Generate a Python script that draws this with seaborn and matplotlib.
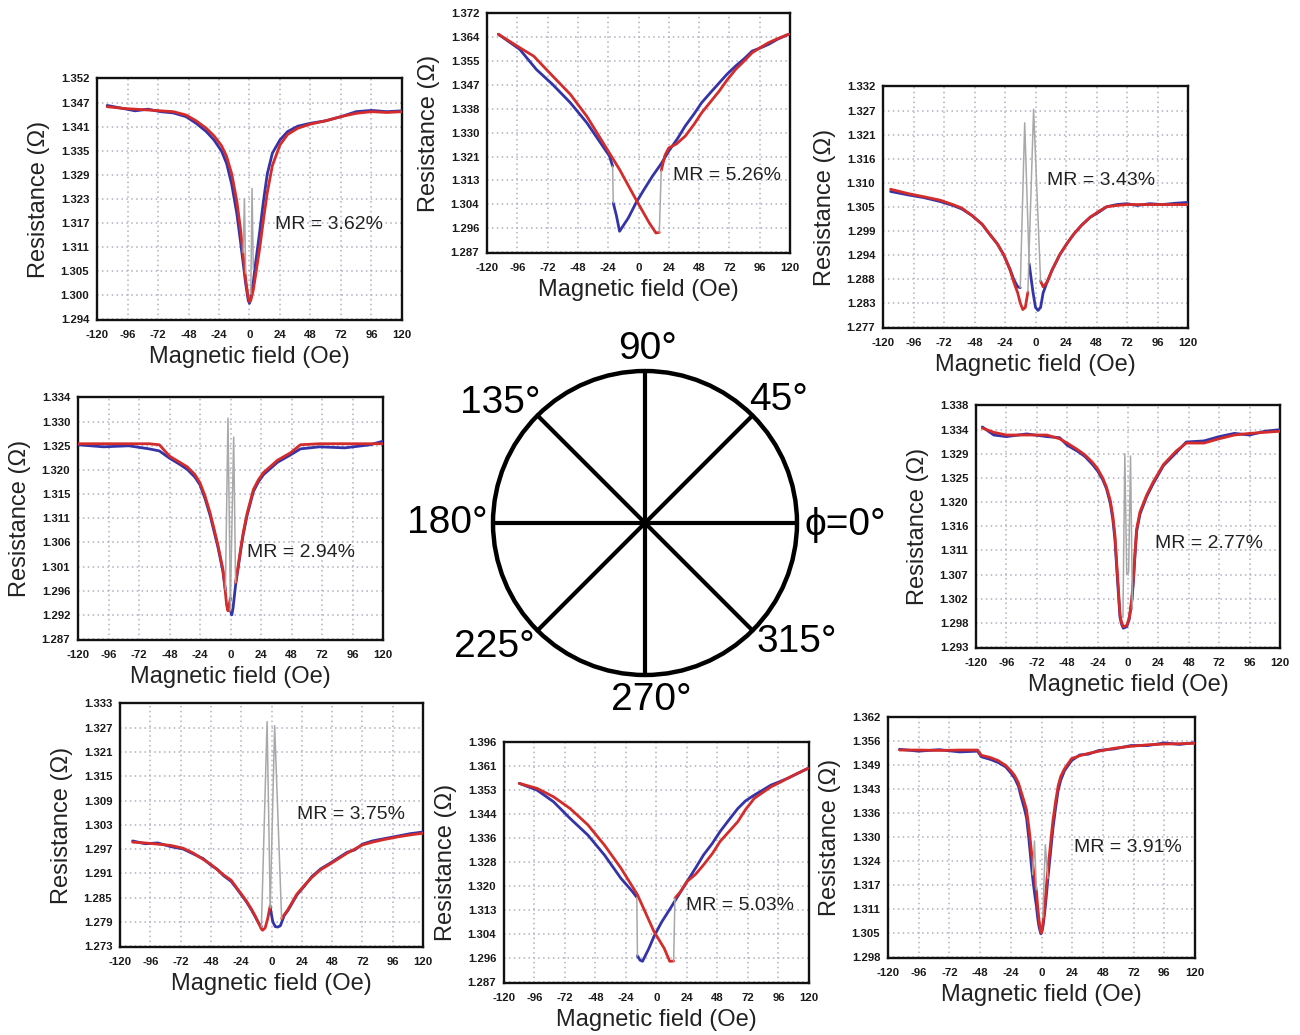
import numpy as np
import matplotlib
matplotlib.use("Agg")
import matplotlib.pyplot as plt
import seaborn as sns
from matplotlib.patches import Circle

sns.set_theme(style="white")
plt.rcParams['font.family'] = ['Liberation Sans', 'DejaVu Sans']

nan = np.nan
W, H = 1300, 1035
BLUE = '#3434a8'
RED = '#d42b2b'
GREY = '#a8a8a8'

x_ticklabels = ['-120', '-96', '-72', '-48', '-24', '0', '24', '48', '72', '96', '120']

# ---------------- phi = 135 deg (top-left) ----------------
p135_x = [-112, -100, -90, -80, -70, -60, -50, -42, -34, -28, -22, -18, -14, -10, -7, -5, -3, -1, 0, 1,
          3, 5, 8, 11, 14, 18, 24, 30, 38, 48, 60, 72, 84, 96, 108, 120]
p135_blue = [1.3455, 1.3448, 1.3442, 1.3446, 1.3440, 1.3437, 1.3428, 1.3412, 1.3392, 1.3372,
             1.3345, 1.3315, 1.3265, 1.3195, 1.3125, 1.3075, 1.3025, 1.2985, 1.2978, 1.2990,
             1.3030, 1.3080, 1.3150, 1.3225, 1.3290, 1.3340, 1.3372, 1.3392, 1.3405, 1.3412,
             1.3418, 1.3428, 1.3440, 1.3443, 1.3440, 1.3442]
p135_red = [1.3452, 1.3448, 1.3446, 1.3444, 1.3442, 1.3440, 1.3432, 1.3418, 1.3400, 1.3382,
            1.3358, 1.3332, 1.3290, 1.3225, 1.3155, 1.3095, 1.3035, 1.2992, 1.2982, 1.2985,
            1.3010, 1.3050, 1.3110, 1.3180, 1.3245, 1.3310, 1.3360, 1.3385, 1.3400, 1.3410,
            1.3418, 1.3428, 1.3436, 1.3440, 1.3438, 1.3440]
p135_spike_x = [[-5, -4, -3], [1, 2, 3]]
p135_spike_y = [[1.3100, 1.3230, 1.3050], [1.3000, 1.3255, 1.3060]]
p135_yticks = ['1.294', '1.300', '1.305', '1.311', '1.317', '1.323', '1.329', '1.335', '1.341', '1.347', '1.352']
p135_range = (1.294, 1.352)

# ---------------- phi = 90 deg (top-center) ----------------
p90_blue_x = [-111, -94, -81, -68, -54, -41, -31, -23, -20.5, nan, -20, -17.5, -15, -8, -2, 4, 11, 18, 24, 31,
              37, 44, 50, 57, 64, 70, 77, 84, 90, 97, 103, 110, 119]
p90_blue_y = [1.3646, 1.3592, 1.3521, 1.3467, 1.3402, 1.3331, 1.3265, 1.3212, 1.3176, nan,
              1.3045, 1.3000, 1.2944, 1.2992, 1.3045, 1.3090, 1.3140, 1.3185, 1.3230, 1.3275,
              1.3319, 1.3362, 1.3402, 1.3438, 1.3473, 1.3503, 1.3533, 1.3560, 1.3586, 1.3598,
              1.3610, 1.3628, 1.3646]
p90_red_x = [-111, -94, -83, -68, -54, -41, -28, -15, -2, 8.5, 13.8, 16.5, nan, 18, 21, 24, 30, 37, 44, 50,
             57, 64, 70, 77, 84, 90, 97, 103, 110, 119]
p90_red_y = [1.3646, 1.3598, 1.3568, 1.3497, 1.3432, 1.3354, 1.3259, 1.3164, 1.3057, 1.2974,
             1.2938, 1.2940, nan, 1.3160, 1.3215, 1.3241, 1.3255, 1.3283, 1.3325, 1.3366,
             1.3405, 1.3444, 1.3482, 1.3521, 1.3552, 1.3580, 1.3600, 1.3616, 1.3630, 1.3646]
p90_spike_x = [[-20.5, -20], [16.5, 18]]
p90_spike_y = [[1.3176, 1.3045], [1.2940, 1.3160]]
p90_yticks = ['1.287', '1.296', '1.304', '1.313', '1.321', '1.330', '1.338', '1.347', '1.355', '1.364', '1.372']
p90_range = (1.287, 1.372)

# ---------------- phi = 45 deg (top-right) ----------------
p45_blue_x = [-114, -100, -88, -75, -65, -58, -50, -42, -36, -30, -25, -20, -17, -14, -12, nan, -5, -2, 0, 2,
              4, 6, 9, 13, 19, 25, 30, 36, 43, 50, 56, 64, 72, 80, 90, 100, 110, 120]
p45_blue_y = [1.3080, 1.3072, 1.3066, 1.3057, 1.3048, 1.3040, 1.3025, 1.3005, 1.2982, 1.2960,
              1.2935, 1.2902, 1.2878, 1.2862, 1.2860, nan, 1.2915, 1.2850, 1.2815, 1.2808,
              1.2815, 1.2848, 1.2872, 1.2900, 1.2935, 1.2962, 1.2982, 1.3002, 1.3021, 1.3033,
              1.3045, 1.3050, 1.3052, 1.3048, 1.3052, 1.3050, 1.3053, 1.3055]
p45_red_x = [-114, -100, -88, -75, -65, -58, -50, -42, -36, -30, -25, -20, -17, -14, -12, -10, -8, -6, nan, 4,
             6, 9, 13, 19, 25, 30, 36, 43, 50, 56, 64, 72, 80, 90, 100, 110, 120]
p45_red_y = [1.3085, 1.3075, 1.3068, 1.3060, 1.3050, 1.3042, 1.3025, 1.3005, 1.2982, 1.2960,
             1.2935, 1.2900, 1.2872, 1.2848, 1.2825, 1.2810, 1.2815, 1.2850, nan, 1.2875,
             1.2862, 1.2872, 1.2900, 1.2935, 1.2962, 1.2982, 1.3002, 1.3021, 1.3035, 1.3045,
             1.3048, 1.3050, 1.3050, 1.3050, 1.3050, 1.3050, 1.3050]
p45_spike_x = [[-12, -8.5, -5], [-6, -1.5, 4]]
p45_spike_y = [[1.2860, 1.3237, 1.2915], [1.2850, 1.3268, 1.2875]]
p45_yticks = ['1.277', '1.283', '1.288', '1.294', '1.299', '1.305', '1.310', '1.316', '1.321', '1.327', '1.332']
p45_range = (1.277, 1.332)

# ---------------- phi = 180 deg (middle-left) ----------------
p180_blue_x = [-120, -100, -80, -64, -56, -48, -40, -34, -28, -24, -20, -16, -13, -10, -8, -6, -4, nan,
               0, 1, 2, 4, 6, 8, 10, 13, 16, 18, 22, 26, 32, 37, 47, 55, 70, 90, 110, 120]
p180_blue_y = [1.3248, 1.3244, 1.3246, 1.3240, 1.3236, 1.3222, 1.3210, 1.3200, 1.3185, 1.3170,
               1.3143, 1.3110, 1.3080, 1.3050, 1.3026, 1.3002, 1.2966, nan,
               1.2925, 1.2917, 1.2930, 1.2975, 1.3008, 1.3042, 1.3073, 1.3110, 1.3138, 1.3157,
               1.3176, 1.3190, 1.3203, 1.3214, 1.3228, 1.3240, 1.3244, 1.3242, 1.3248, 1.3255]
p180_red_x = [-120, -100, -80, -64, -56, -48, -40, -34, -28, -24, -20, -16, -13, -10, -8, -6, -4, -3, -2, 0, nan,
              4, 6, 8, 10, 13, 16, 18, 22, 26, 32, 37, 47, 55, 70, 90, 110, 120]
p180_red_y = [1.3250, 1.3250, 1.3250, 1.3250, 1.3248, 1.3226, 1.3214, 1.3205, 1.3190, 1.3174,
              1.3148, 1.3115, 1.3085, 1.3054, 1.3030, 1.3006, 1.2960, 1.2935, 1.2925, 1.2950, nan,
              1.2980, 1.3012, 1.3046, 1.3077, 1.3114, 1.3142, 1.3161, 1.3180, 1.3194, 1.3207,
              1.3218, 1.3232, 1.3248, 1.3250, 1.3250, 1.3250, 1.3250]
p180_spike_x = [[-4, -2, 0], [0, 2.5, 4]]
p180_spike_y = [[1.2966, 1.3300, 1.2925], [1.2950, 1.3263, 1.2980]]
p180_yticks = ['1.287', '1.292', '1.296', '1.301', '1.306', '1.311', '1.315', '1.320', '1.325', '1.330', '1.334']
p180_range = (1.287, 1.334)

# ---------------- phi = 0 deg (middle-right) ----------------
p0_x = [-115, -106, -96, -80, -64, -54, -48, -40, -34, -28, -24, -20, -17, -14, -12, -10.3, -9, -7.6, -6.3, -5,
        -3.7, -1, 1, 3, 4.2, 5.5, 6.8, 9.5, 14.7, 20, 28, 38, 46, 60, 72, 84, 96, 108, 120]
p0_blue = [1.3340, 1.3325, 1.3322, 1.3327, 1.3322, 1.3320, 1.3306, 1.3295, 1.3285, 1.3270,
           1.3258, 1.3242, 1.3225, 1.3198, 1.3168, 1.3130, 1.3080, 1.3030, 1.2985, 1.2972,
           1.2965, 1.2968, 1.2982, 1.3015, 1.3050, 1.3100, 1.3145, 1.3178, 1.3210, 1.3235,
           1.3268, 1.3292, 1.3312, 1.3314, 1.3322, 1.3328, 1.3325, 1.3332, 1.3335]
p0_red = [1.3338, 1.3330, 1.3325, 1.3325, 1.3325, 1.3318, 1.3310, 1.3298, 1.3288, 1.3274,
          1.3262, 1.3245, 1.3228, 1.3203, 1.3175, 1.3138, 1.3090, 1.3040, 1.2990, 1.2975,
          1.2968, 1.2970, 1.2985, 1.3020, 1.3056, 1.3105, 1.3150, 1.3182, 1.3213, 1.3238,
          1.3270, 1.3295, 1.3310, 1.3310, 1.3318, 1.3325, 1.3328, 1.3330, 1.3332]
p0_spike_x = [[-4, -2.5, -1, 0.5, 2, 3.5]]
p0_spike_y = [[1.2985, 1.3290, 1.3065, 1.3070, 1.3286, 1.3000]]
p0_yticks = ['1.293', '1.298', '1.302', '1.307', '1.311', '1.316', '1.320', '1.325', '1.329', '1.334', '1.338']
p0_range = (1.293, 1.338)

# ---------------- phi = 225 deg (bottom-left) ----------------
p225_blue_x = [-110, -100, -90, -80, -70, -62, -54, -48, -43, -38, -32, -28, -24, -20, -16, -13, -10, -8, nan,
               -1, 1, 3, 5, 7, 10, 13, 16, 20, 26, 32, 39, 46, 52, 60, 66, 72, 80, 90, 100, 110, 120]
p225_blue_y = [1.2990, 1.2983, 1.2985, 1.2976, 1.2970, 1.2958, 1.2946, 1.2930, 1.2920, 1.2904,
               1.2890, 1.2874, 1.2857, 1.2840, 1.2820, 1.2803, 1.2786, 1.2778, nan,
               1.2825, 1.2790, 1.2778, 1.2777, 1.2780, 1.2805, 1.2818, 1.2834, 1.2856, 1.2878,
               1.2902, 1.2921, 1.2934, 1.2946, 1.2962, 1.2968, 1.2982, 1.2990, 1.2996, 1.3002,
               1.3008, 1.3012]
p225_red_x = [-110, -100, -90, -80, -70, -62, -54, -48, -43, -38, -32, -28, -24, -20, -16, -13, -10, -8, -7, -5,
              -3, -1, nan, 8, 10, 13, 16, 20, 26, 32, 39, 46, 52, 60, 66, 72, 80, 90, 100, 110, 120]
p225_red_y = [1.2987, 1.2985, 1.2982, 1.2979, 1.2972, 1.2960, 1.2944, 1.2932, 1.2919, 1.2906,
              1.2893, 1.2876, 1.2859, 1.2842, 1.2822, 1.2805, 1.2785, 1.2772, 1.2769, 1.2775,
              1.2798, 1.2830, nan, 1.2798, 1.2807, 1.2820, 1.2836, 1.2858, 1.2880, 1.2900,
              1.2919, 1.2932, 1.2944, 1.2960, 1.2970, 1.2980, 1.2987, 1.2994, 1.3000, 1.3005, 1.3009]
p225_spike_x = [[-8, -3.5, -1], [-1, 2.5, 8]]
p225_spike_y = [[1.2778, 1.3285, 1.2825], [1.2830, 1.3275, 1.2798]]
p225_yticks = ['1.273', '1.279', '1.285', '1.291', '1.297', '1.303', '1.309', '1.315', '1.321', '1.327', '1.333']
p225_range = (1.273, 1.333)

# ---------------- phi = 270 deg (bottom-center) ----------------
p270_blue_x = [-108, -94, -81, -68, -54, -41, -28, -19, -15.5, nan, -15, -13, -11, -6, -2, 4, 11, 18, 24, 31,
               37, 44, 50, 57, 64, 70, 77, 84, 90, 97, 103, 110, 119]
p270_blue_y = [1.3550, 1.3527, 1.3487, 1.3430, 1.3373, 1.3305, 1.3225, 1.3180, 1.3160, nan,
               1.2960, 1.2945, 1.2941, 1.2985, 1.3026, 1.3075, 1.3123, 1.3172, 1.3214, 1.3262,
               1.3305, 1.3345, 1.3385, 1.3425, 1.3464, 1.3490, 1.3510, 1.3528, 1.3544, 1.3556,
               1.3567, 1.3582, 1.3601]
p270_red_x = [-108, -94, -81, -68, -54, -41, -28, -15, -2, 6, 10.4, 13.5, nan, 14.5, 19, 24, 31, 37, 44, 50,
              57, 64, 70, 77, 84, 90, 97, 103, 110, 119]
p270_red_y = [1.3550, 1.3533, 1.3504, 1.3464, 1.3408, 1.3339, 1.3260, 1.3169, 1.3043, 1.2986,
              1.2941, 1.2942, nan, 1.3157, 1.3180, 1.3214, 1.3240, 1.3271, 1.3310, 1.3351,
              1.3385, 1.3419, 1.3460, 1.3499, 1.3520, 1.3538, 1.3553, 1.3567, 1.3582, 1.3601]
p270_spike_x = [[-15.5, -15], [13.5, 14.5]]
p270_spike_y = [[1.3160, 1.2960], [1.2942, 1.3157]]
p270_yticks = ['1.287', '1.296', '1.304', '1.313', '1.320', '1.328', '1.336', '1.344', '1.353', '1.361', '1.396']
p270_range = (1.287, 1.369)

# ---------------- phi = 315 deg (bottom-right) ----------------
p315_x = [-111, -96, -80, -64, -50, -47, -40, -34, -28, -24, -21, -18, -15.7, -13.5, -11.7, -10, -9, -7.5, -6.5, -5,
          -3.9, -3, -2, -1, -0.5, 0, 1, 2, 3, 3.9, 5, 6.5, 8, 9, 11, 13, 15, 18, 23.5, 30,
          36.6, 45, 57, 70, 83, 96, 108, 120]
p315_blue = [1.3535, 1.3530, 1.3534, 1.3528, 1.3530, 1.3515, 1.3508, 1.3500, 1.3488, 1.3472,
             1.3458, 1.3436, 1.3405, 1.3378, 1.3352, 1.3300, 1.3265, 1.3210, 1.3180, 1.3140,
             1.3115, 1.3085, 1.3062, 1.3048, 1.3042, 1.3045, 1.3058, 1.3085, 1.3115, 1.3148,
             1.3190, 1.3240, 1.3292, 1.3325, 1.3378, 1.3425, 1.3452, 1.3478, 1.3505, 1.3520,
             1.3522, 1.3532, 1.3536, 1.3545, 1.3545, 1.3552, 1.3548, 1.3553]
p315_red = [1.3533, 1.3533, 1.3532, 1.3533, 1.3533, 1.3519, 1.3513, 1.3505, 1.3492, 1.3478,
            1.3465, 1.3445, 1.3419, 1.3395, 1.3373, 1.3330, 1.3300, 1.3250, 1.3218, 1.3180,
            1.3154, 1.3115, 1.3081, 1.3055, 1.3045, 1.3045, 1.3065, 1.3099, 1.3135, 1.3172,
            1.3215, 1.3263, 1.3315, 1.3346, 1.3395, 1.3437, 1.3462, 1.3483, 1.3510, 1.3518,
            1.3524, 1.3530, 1.3538, 1.3543, 1.3547, 1.3549, 1.3550, 1.3551]
p315_spike_x = [[-7, -5.5, -4], [1, 3, 5]]
p315_spike_y = [[1.3200, 1.3290, 1.3160], [1.3085, 1.3280, 1.3190]]
p315_yticks = ['1.298', '1.305', '1.311', '1.317', '1.324', '1.330', '1.336', '1.343', '1.349', '1.356', '1.362']
p315_range = (1.298, 1.362)

mr_values = {'135': '3.62%', '90': '5.26%', '45': '3.43%', '180': '2.94%',
             '0': '2.77%', '225': '3.75%', '270': '5.03%', '315': '3.91%'}

# central angle diagram
angles = [0, 45, 90, 135, 180, 225, 270, 315]
angle_labels = ['\u03d5=0\u00b0', '45\u00b0', '90\u00b0', '135\u00b0', '180\u00b0', '225\u00b0', '270\u00b0', '315\u00b0']

# ---------------- layout (pixel boxes: left, top, right, bottom) ----------------
panels = [
    dict(key='135', box=(97, 78, 402, 320), bx=p135_x, by=p135_blue, rx=p135_x, ry=p135_red,
         sx=p135_spike_x, sy=p135_spike_y, yt=p135_yticks, yr=p135_range, mr=(20, 1.3167)),
    dict(key='90', box=(487, 13, 790, 253), bx=p90_blue_x, by=p90_blue_y, rx=p90_red_x, ry=p90_red_y,
         sx=p90_spike_x, sy=p90_spike_y, yt=p90_yticks, yr=p90_range, mr=(27.5, 1.3143)),
    dict(key='45', box=(883, 86, 1188, 328), bx=p45_blue_x, by=p45_blue_y, rx=p45_red_x, ry=p45_red_y,
         sx=p45_spike_x, sy=p45_spike_y, yt=p45_yticks, yr=p45_range, mr=(9, 1.3104)),
    dict(key='180', box=(78, 397, 383, 640), bx=p180_blue_x, by=p180_blue_y, rx=p180_red_x, ry=p180_red_y,
         sx=p180_spike_x, sy=p180_spike_y, yt=p180_yticks, yr=p180_range, mr=(13, 1.3039)),
    dict(key='0', box=(976, 405, 1280, 648), bx=p0_x, by=p0_blue, rx=p0_x, ry=p0_red,
         sx=p0_spike_x, sy=p0_spike_y, yt=p0_yticks, yr=p0_range, mr=(21, 1.3122)),
    dict(key='225', box=(120, 703, 423, 947), bx=p225_blue_x, by=p225_blue_y, rx=p225_red_x, ry=p225_red_y,
         sx=p225_spike_x, sy=p225_spike_y, yt=p225_yticks, yr=p225_range, mr=(20, 1.3056)),
    dict(key='270', box=(504, 742, 809, 983), bx=p270_blue_x, by=p270_blue_y, rx=p270_red_x, ry=p270_red_y,
         sx=p270_spike_x, sy=p270_spike_y, yt=p270_yticks, yr=p270_range, mr=(23, 1.3133)),
    dict(key='315', box=(888, 717, 1195, 958), bx=p315_x, by=p315_blue, rx=p315_x, ry=p315_red,
         sx=p315_spike_x, sy=p315_spike_y, yt=p315_yticks, yr=p315_range, mr=(25.5, 1.3273)),
]

fig = plt.figure(figsize=(13, 10.35), dpi=100)
fig.patch.set_facecolor('white')


def draw_curve(ax, x, y, color, lw, z):
    x = np.asarray(x, float)
    y = np.asarray(y, float)
    seg = np.cumsum(np.isnan(y))
    for s in np.unique(seg):
        m = (seg == s) & ~np.isnan(y)
        if m.sum() > 1:
            sns.lineplot(x=x[m], y=y[m], ax=ax, color=color, lw=lw, sort=False,
                         estimator=None, legend=False, zorder=z)


for p in panels:
    l, t, r, b = p['box']
    wpx, hpx = r - l, b - t
    ax = fig.add_axes([l / W, 1 - b / H, wpx / W, hpx / H])
    lo, hi = p['yr']
    ticks = np.linspace(lo, hi, len(p['yt']))
    step = ticks[1] - ticks[0]

    draw_curve(ax, p['bx'], p['by'], BLUE, 2.0, 3)
    draw_curve(ax, p['rx'], p['ry'], RED, 2.0, 4)
    for sx, sy in zip(p['sx'], p['sy']):
        sns.lineplot(x=sx, y=sy, ax=ax, color=GREY, lw=1.1, sort=False, estimator=None,
                     legend=False, zorder=5)

    ax.set_yticks(ticks)
    ax.set_yticklabels(p['yt'])
    ax.set_xticks(np.linspace(-120, 120, len(x_ticklabels)))
    ax.set_xticklabels(x_ticklabels)
    ax.set_xlim(-120, 120)
    ax.set_ylim(lo - 0.04 * step, hi + 0.02 * step)
    ax.grid(True, ls=(0, (1, 2.2)), color='#aeb0c2', lw=1.1)
    ax.set_axisbelow(True)
    for sp in ax.spines.values():
        sp.set_visible(True)
        sp.set_color('#111111')
        sp.set_linewidth(1.7)
    ax.tick_params(axis='both', length=0, labelsize=8.2, colors='#1a1a1a')
    for lab in ax.get_xticklabels() + ax.get_yticklabels():
        lab.set_fontweight('bold')
    ax.tick_params(axis='y', pad=5.5)
    ax.tick_params(axis='x', pad=7)
    ax.set_xlabel('Magnetic field (Oe)', fontsize=17, color='#222222')
    ax.set_ylabel('Resistance (\u03a9)', fontsize=17, color='#222222')
    ax.xaxis.set_label_coords(0.5, -26 / hpx)
    ax.yaxis.set_label_coords(-47 / wpx, 0.5)
    ax.text(p['mr'][0], p['mr'][1], 'MR = ' + mr_values[p['key']], fontsize=14,
            color='#222222', ha='left', va='center', zorder=6)

# ---------------- central circle ----------------
cx, cy, R = 645, 523, 152
half = 235
axc = fig.add_axes([(cx - half) / W, 1 - (cy + half) / H, 2 * half / W, 2 * half / H])
axc.set_xlim(-half / R, half / R)
axc.set_ylim(-half / R, half / R)
axc.axis('off')
axc.add_patch(Circle((0, 0), 1.0, fill=False, lw=3.2, ec='black'))
for a in angles:
    rad = np.deg2rad(a)
    sns.lineplot(x=[0, np.cos(rad)], y=[0, np.sin(rad)], ax=axc, color='black', lw=3.0,
                 sort=False, estimator=None, legend=False)
label_offsets = {0: (200, 2), 45: (134, -123), 90: (3, -174), 135: (-145, -120),
                 180: (-198, 0), 225: (-151, 124), 270: (6, 177), 315: (152, 119)}
for a, lab in zip(angles, angle_labels):
    dx, dy = label_offsets[a]
    axc.text(dx / R, -dy / R, lab, fontsize=28, ha='center', va='center', color='black',
             family=['Liberation Sans', 'DejaVu Sans'])

fig.savefig('out.png', dpi=100, facecolor='white')
